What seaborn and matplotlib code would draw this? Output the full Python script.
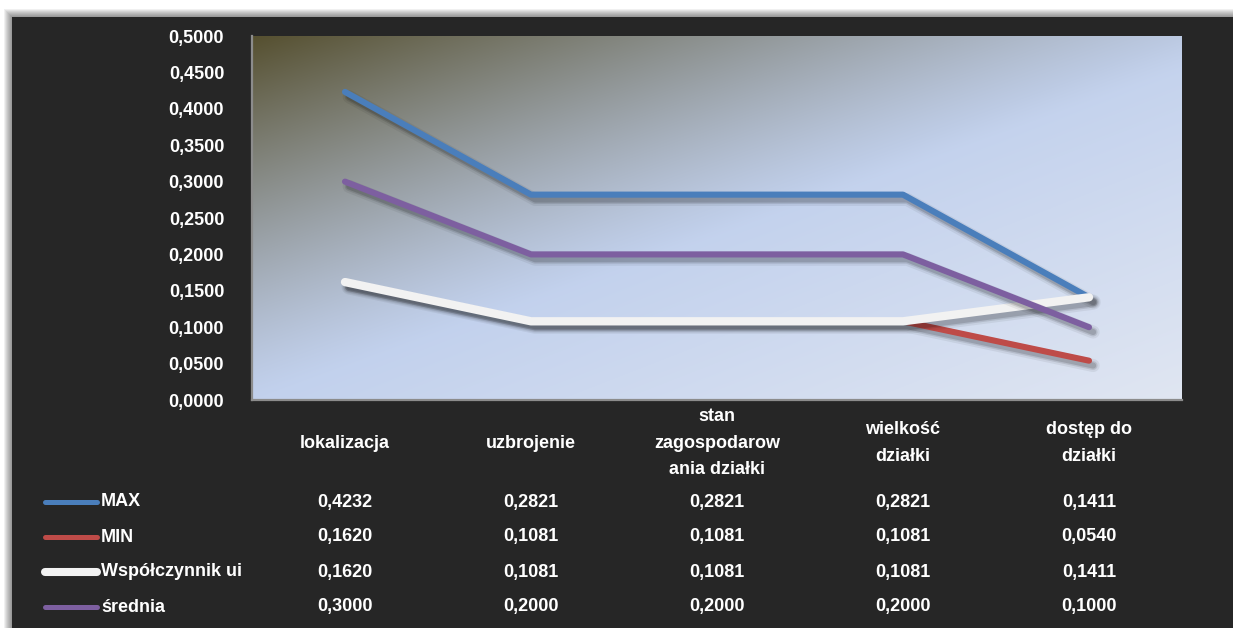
import numpy as np
import pandas as pd
import matplotlib
matplotlib.use("Agg")
import matplotlib.pyplot as plt
import matplotlib.patheffects as pe
from matplotlib.patches import Rectangle
from matplotlib.lines import Line2D
import seaborn as sns

# --- data -------------------------------------------------------------
categories = ["lokalizacja", "uzbrojenie", "stan\nzagospodarow\nania działki",
              "wielkość\ndziałki", "dostęp do\ndziałki"]
series_names = ["MAX", "MIN", "Współczynnik ui", "średnia"]
max_vals = [0.4232, 0.2821, 0.2821, 0.2821, 0.1411]
min_vals = [0.1620, 0.1081, 0.1081, 0.1081, 0.0540]
ui_vals = [0.1620, 0.1081, 0.1081, 0.1081, 0.1411]
avg_vals = [0.3000, 0.2000, 0.2000, 0.2000, 0.1000]
y_ticks = [0.0, 0.05, 0.10, 0.15, 0.20, 0.25, 0.30, 0.35, 0.40, 0.45, 0.50]

colors = ["#4a7ebb", "#be4b48", "#f2f2f2", "#7d5fa0"]
widths = [4.4, 4.4, 6.0, 4.4]
legend_widths = [3.6, 3.6, 5.8, 3.6]

values = [max_vals, min_vals, ui_vals, avg_vals]
df = pd.DataFrame({
    "idx": np.tile(np.arange(len(categories)), len(series_names)),
    "series": np.repeat(series_names, len(categories)),
    "value": np.concatenate(values),
})

sns.set_theme(style="white")
plt.rcParams["font.family"] = ["Liberation Sans", "DejaVu Sans"]
plt.rcParams["font.weight"] = "bold"
FS = 13

W, H = 1233, 628
fig = plt.figure(figsize=(W / 100, H / 100), dpi=100, facecolor="white")

# dark panel with a soft shadow along its top and left edges
panel_bg = "#262626"
for k in range(8, 0, -1):
    fig.patches.append(Rectangle(((12 - k) / W, 0), 1, (611 + k) / H,
                                 transform=fig.transFigure, facecolor="black",
                                 alpha=0.06, edgecolor="none", zorder=0))
fig.patches.append(Rectangle((12 / W, 0), 1, 611 / H, transform=fig.transFigure,
                             facecolor=panel_bg, edgecolor="none", zorder=1))

ax = fig.add_axes([252 / W, 1 - 400 / H, 930 / W, 364 / H])
ax.set_zorder(2)

# gradient fill of the plotting area (row 0 = top edge)
nx, ny = 400, 200
gx, gy = np.meshgrid(np.linspace(0, 1, nx), np.linspace(0, 1, ny))
dark = np.array([86, 80, 48]) / 255
base = np.array([194, 209, 237]) / 255
light = np.array([224, 230, 242]) / 255
wd = np.clip(1 - (gx * 0.95 + gy * 1.05) / 1.05, 0, 1) ** 1.2
wl = np.clip((gx + gy - 1.0) / 1.0, 0, 1)
img = base[None, None, :] * (1 - wd[..., None]) + dark[None, None, :] * wd[..., None]
img = img * (1 - wl[..., None]) + light[None, None, :] * wl[..., None]
ax.imshow(img, extent=[-0.5, 4.5, 0.0, 0.5], origin="upper", aspect="auto",
          zorder=0, interpolation="bicubic")
ax.set_xlim(-0.5, 4.5)
ax.set_ylim(0, 0.5)

for name, col, lw in zip(series_names, colors, widths):
    soft_shadow = [
        pe.SimpleLineShadow(offset=(3, -3.5), shadow_color="black", alpha=0.06,
                            linewidth=lw + 5),
        pe.SimpleLineShadow(offset=(3, -3.5), shadow_color="black", alpha=0.10,
                            linewidth=lw + 2),
        pe.SimpleLineShadow(offset=(3, -3.5), shadow_color="black", alpha=0.14,
                            linewidth=lw),
        pe.Normal(),
    ]
    sns.lineplot(data=df[df["series"] == name], x="idx", y="value", ax=ax,
                 color=col, linewidth=lw, sort=False, legend=False,
                 solid_capstyle="round", solid_joinstyle="round",
                 path_effects=soft_shadow, zorder=3)

ax.set_xlabel("")
ax.set_ylabel("")
ax.set_yticks(y_ticks)
ax.set_yticklabels([f"{t:.4f}".replace(".", ",") for t in y_ticks],
                   color="white", fontsize=FS, fontweight="bold")
ax.tick_params(axis="y", length=0, pad=20)
ax.set_xticks([])
for side in ["top", "right"]:
    ax.spines[side].set_visible(False)
for side in ["left", "bottom"]:
    ax.spines[side].set_visible(True)
    ax.spines[side].set_color("#8c8c8c")
    ax.spines[side].set_linewidth(1.6)
ax.grid(False)

# category labels under the axis
xtrans = matplotlib.transforms.blended_transform_factory(ax.transData, fig.transFigure)
for i, cat in enumerate(categories):
    ax.text(i, 1 - 443 / H, cat, transform=xtrans, ha="center", va="center",
            color="white", fontsize=FS, fontweight="bold", linespacing=1.72,
            clip_on=False)

# data table with legend keys
row_y = [502, 537, 572, 607]
for name, col, lw, vals, ry in zip(series_names, colors, legend_widths, values, row_y):
    yy = 1 - ry / H
    fig.lines.append(Line2D([45 / W, 97 / W], [yy, yy], transform=fig.transFigure,
                            color=col, linewidth=lw, solid_capstyle="round", zorder=5))
    fig.text(101 / W, yy, name, ha="left", va="center", color="white",
             fontsize=FS, fontweight="bold", zorder=5)
    for i, v in enumerate(vals):
        ax.text(i, yy, f"{v:.4f}".replace(".", ","), transform=xtrans,
                ha="center", va="center", color="white", fontsize=FS,
                fontweight="bold", clip_on=False)

fig.savefig("out.png", dpi=100, facecolor="white")
